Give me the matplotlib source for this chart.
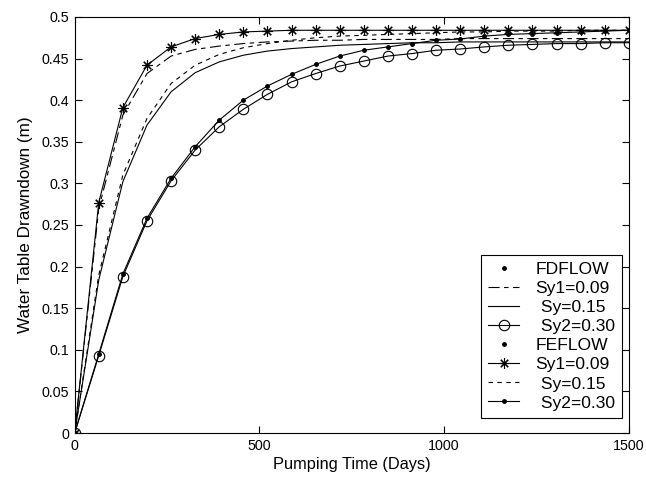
import numpy as np
import matplotlib
matplotlib.use("Agg")
import matplotlib.pyplot as plt

plt.rcParams['font.family'] = ['Liberation Sans', 'DejaVu Sans']

# pumping time (days), 24 output steps
t = [0, 65.2, 130.4, 195.7, 260.9, 326.1, 391.3, 456.5, 521.7, 587.0, 652.2, 717.4,
     782.6, 847.8, 913.0, 978.3, 1043.5, 1108.7, 1173.9, 1239.1, 1304.3, 1369.6, 1434.8, 1500]

# FDFLOW
fd_sy1 = [0, 0.270, 0.382, 0.432, 0.453, 0.461, 0.465, 0.468, 0.470, 0.471, 0.472, 0.472,
          0.473, 0.473, 0.473, 0.473, 0.474, 0.474, 0.474, 0.474, 0.474, 0.474, 0.474, 0.474]
fd_sy15 = [0, 0.184, 0.302, 0.370, 0.410, 0.433, 0.446, 0.454, 0.459, 0.462, 0.464, 0.466,
           0.467, 0.468, 0.469, 0.469, 0.470, 0.470, 0.470, 0.470, 0.470, 0.470, 0.470, 0.470]
fd_sy30 = [0, 0.093, 0.188, 0.255, 0.303, 0.340, 0.368, 0.389, 0.407, 0.422, 0.432, 0.441,
           0.447, 0.453, 0.456, 0.460, 0.4615, 0.464, 0.466, 0.467, 0.468, 0.468, 0.469, 0.469]

# FEFLOW
fe_sy1 = [0, 0.277, 0.391, 0.442, 0.464, 0.474, 0.479, 0.482, 0.483, 0.484, 0.484, 0.484,
          0.484, 0.484, 0.484, 0.484, 0.484, 0.484, 0.484, 0.484, 0.484, 0.484, 0.484, 0.484]
fe_sy15 = [0, 0.190, 0.310, 0.378, 0.420, 0.442, 0.455, 0.463, 0.468, 0.472, 0.475, 0.477,
           0.478, 0.479, 0.480, 0.481, 0.482, 0.482, 0.483, 0.483, 0.483, 0.484, 0.484, 0.484]
fe_sy30 = [0, 0.095, 0.191, 0.258, 0.306, 0.344, 0.376, 0.400, 0.417, 0.431, 0.443, 0.453,
           0.460, 0.464, 0.468, 0.472, 0.4735, 0.477, 0.479, 0.480, 0.481, 0.482, 0.483, 0.484]

yticks = [0, 0.05, 0.1, 0.15, 0.2, 0.25, 0.3, 0.35, 0.4, 0.45, 0.5]
ytick_labels = ['0', '0.05', '0.1', '0.15', '0.2', '0.25', '0.3', '0.35', '0.4', '0.45', '0.5']
xticks = [0, 500, 1000, 1500]

fig = plt.figure(figsize=(6.46, 4.79), dpi=100)
ax = fig.add_axes([0.1156, 0.096, 0.8578, 0.8686])

lw = 0.8
asterisk = (8, 2, 0)

ax.plot([], [], 'k.', ms=5, linestyle='none', label='FDFLOW')
ax.plot(t, fd_sy1, color='k', lw=lw, linestyle=(0, (10, 4, 4, 4)), label='Sy1=0.09')
ax.plot(t, fd_sy15, color='k', lw=lw, linestyle='-', label=' Sy=0.15')
ax.plot(t, fd_sy30, color='k', lw=lw, marker='o', ms=7.5, mfc='none', mew=0.8,
        label=' Sy2=0.30')
ax.plot([], [], 'k.', ms=5, linestyle='none', label='FEFLOW')
ax.plot(t, fe_sy1, color='k', lw=lw, marker=asterisk, ms=7.5, mew=0.8, label='Sy1=0.09')
ax.plot(t, fe_sy15, color='k', lw=lw, linestyle=(0, (4, 4)), label=' Sy=0.15')
ax.plot(t, fe_sy30, color='k', lw=lw, marker='.', ms=5, label=' Sy2=0.30')

ax.set_xlim(0, 1500)
ax.set_ylim(0, 0.5)
ax.set_xticks(xticks)
ax.set_yticks(yticks)
ax.set_yticklabels(ytick_labels)
ax.tick_params(direction='in', length=5, width=0.8, top=True, right=True,
               labelsize=10.3, pad=4)
for s in ax.spines.values():
    s.set_linewidth(0.8)

ax.set_xlabel('Pumping Time (Days)', fontsize=11.8, labelpad=3)
ax.set_ylabel('Water Table Drawndown (m)', fontsize=12.3, labelpad=6)

leg = ax.legend(loc='lower right', bbox_to_anchor=(0.987, 0.037), borderaxespad=0,
                fontsize=12.6, handlelength=1.75, handletextpad=0.95, labelspacing=0.22,
                borderpad=0.4, fancybox=False, framealpha=1, edgecolor='k')
leg.get_frame().set_linewidth(0.8)

fig.savefig('out.png', dpi=100)
